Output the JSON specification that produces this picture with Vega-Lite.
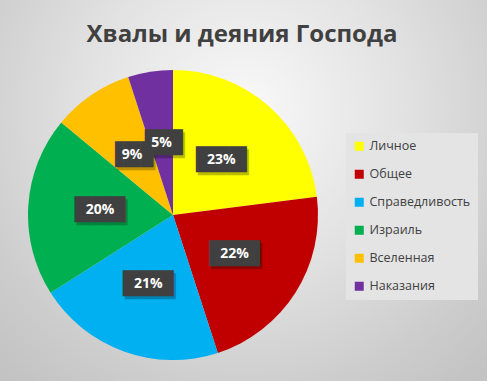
{
  "$schema": "https://vega.github.io/schema/vega-lite/v6.json",
  "width": 290,
  "height": 290,
  "autosize": {"type": "none"},
  "padding": {"left": 28, "top": 70, "right": 169, "bottom": 21},
  "background": "#cfcfcf",
  "title": {
    "text": "Хвалы и деяния Господа",
    "font": "Open Sans",
    "fontSize": 24,
    "fontWeight": "bold",
    "color": "#404040",
    "anchor": "middle",
    "frame": "group",
    "dx": 69,
    "dy": 252,
    "offset": 0
  },
  "config": {"view": {"stroke": null}},
  "data": {
    "values": [
      {"cat": "Личное", "value": 0.23, "i": 1},
      {"cat": "Общее", "value": 0.22, "i": 2},
      {"cat": "Справедливость", "value": 0.21, "i": 3},
      {"cat": "Израиль", "value": 0.20, "i": 4},
      {"cat": "Вселенная", "value": 0.09, "i": 5},
      {"cat": "Наказания", "value": 0.05, "i": 6}
    ]
  },
  "layer": [
    {
      "data": {"values": [{}]},
      "mark": {
        "type": "arc",
        "radius": 420,
        "theta": 0,
        "theta2": 6.2832,
        "fill": {
          "gradient": "radial",
          "x1": 0.585, "y1": 0.375, "r1": 0,
          "x2": 0.585, "y2": 0.375, "r2": 0.42,
          "stops": [
            {"offset": 0, "color": "#f9f9f9"},
            {"offset": 0.45, "color": "#e2e2e2"},
            {"offset": 0.8, "color": "#cdcdcd"},
            {"offset": 1, "color": "#c3c3c3"}
          ]
        }
      },
      "encoding": {}
    },
    {
      "mark": {"type": "arc"},
      "encoding": {
        "theta": {"field": "value", "type": "quantitative", "stack": true},
        "order": {"field": "i", "type": "quantitative"},
        "color": {
          "field": "cat",
          "type": "nominal",
          "sort": ["Личное", "Общее", "Справедливость", "Израиль", "Вселенная", "Наказания"],
          "scale": {
            "domain": ["Личное", "Общее", "Справедливость", "Израиль", "Вселенная", "Наказания"],
            "range": ["#FFFF00", "#C00000", "#00B0F0", "#00B050", "#FFC000", "#7030A0"]
          },
          "legend": {
            "orient": "none",
            "legendX": 318,
            "legendY": 63,
            "title": null,
            "symbolType": "square",
            "symbolSize": 81,
            "symbolStrokeWidth": 0,
            "symbolOpacity": 1,
            "labelFont": "Open Sans",
            "labelFontSize": 12.5,
            "labelColor": "#404040",
            "rowPadding": 15,
            "labelOffset": 4,
            "padding": 7,
            "fillColor": "#e4e4e4"
          }
        }
      }
    },
    {
      "mark": {"type": "text", "radius": 73, "font": "DejaVu Sans", "fontSize": 22, "color": "#000000", "opacity": 0.25, "dx": 2, "dy": 3, "baseline": "middle"},
      "encoding": {
        "theta": {"field": "value", "type": "quantitative", "stack": true},
        "order": {"field": "i", "type": "quantitative"},
        "text": {"condition": {"test": "datum.value < 0.1", "value": "▐█▊"}, "value": "███"}
      }
    },
    {
      "mark": {"type": "text", "radius": 73, "font": "DejaVu Sans", "fontSize": 22, "color": "#404040", "baseline": "middle"},
      "encoding": {
        "theta": {"field": "value", "type": "quantitative", "stack": true},
        "order": {"field": "i", "type": "quantitative"},
        "text": {"condition": {"test": "datum.value < 0.1", "value": "▐█▊"}, "value": "███"}
      }
    },
    {
      "mark": {"type": "text", "radius": 73, "font": "Open Sans", "fontSize": 14, "fontWeight": "bold", "color": "#ffffff", "baseline": "middle"},
      "encoding": {
        "theta": {"field": "value", "type": "quantitative", "stack": true},
        "order": {"field": "i", "type": "quantitative"},
        "text": {"field": "value", "type": "quantitative", "format": ".0%"}
      }
    }
  ]
}
